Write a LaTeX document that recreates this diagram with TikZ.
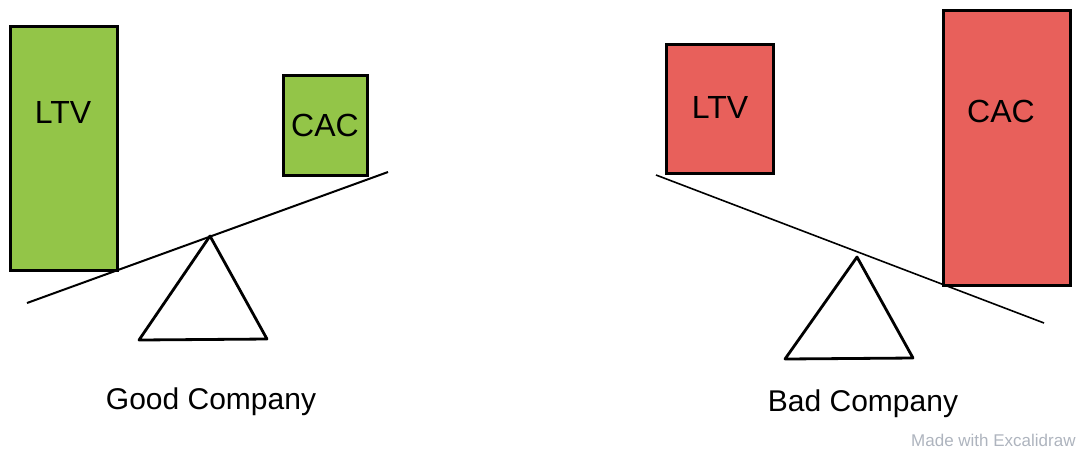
\documentclass[tikz,border=0pt]{standalone}
\usepackage{fontspec}
\setmainfont{Liberation Sans}
\definecolor{goodgreen}{HTML}{93C548}
\definecolor{badred}{HTML}{E8605B}
\definecolor{markgray}{HTML}{AEB4BE}
\begin{document}
\begin{tikzpicture}[x=0.5pt, y=-0.5pt,
  block/.style={draw=black, line width=1.5pt},
  beam/.style={black, line width=1pt},
  pivot/.style={black, line width=1.4pt, line join=round},
  label/.style={font=\fontsize{16}{18}\selectfont, inner sep=0pt}]
\useasboundingbox (0,0) rectangle (1080,452);

% Good Company
\draw[block, fill=goodgreen] (10,26) rectangle (117,270);
\draw[block, fill=goodgreen] (283,75) rectangle (367,175);
\node[label] (ltvgood) at (63,112) {LTV};
\node[label] (cacgood) at (325,125) {CAC};
\draw[beam] (27,303) -- (388,172);
\draw[pivot] (210,236) -- (267,339) -- (139,340) -- cycle;
\node[font=\fontsize{15}{18}\selectfont] (good) at (211,402) {Good Company};

% Bad Company
\draw[block, fill=badred] (666,44) rectangle (773,173);
\draw[block, fill=badred] (943,10) rectangle (1070,285);
\node[label] (ltvbad) at (720,107) {LTV};
\node[label] (cacbad) at (1001,111) {CAC};
\draw[beam, line width=0.8pt] (656,175) -- (1044,323);
\draw[pivot] (857,257) -- (913,358) -- (785,359) -- cycle;
\node[font=\fontsize{15}{18}\selectfont] (bad) at (863,404) {Bad Company};

\node[font=\fontsize{8.5}{10}\selectfont, text=markgray, anchor=east, inner sep=0pt] (mark) at (1076,440) {Made with Excalidraw};

\end{tikzpicture}
\end{document}
